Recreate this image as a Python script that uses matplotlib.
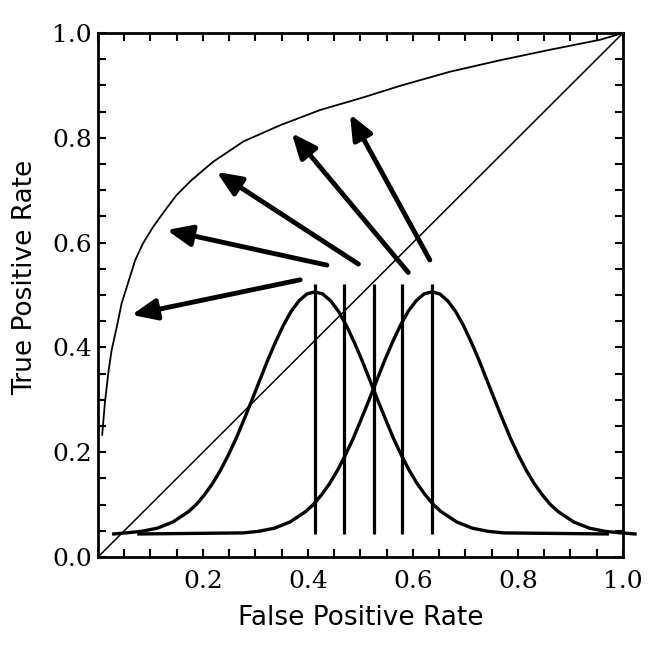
import matplotlib
matplotlib.use("Agg")
import matplotlib.pyplot as plt
from matplotlib.ticker import MultipleLocator

# ROC curve
roc_fpr = [0.008, 0.013, 0.020, 0.026, 0.036, 0.045, 0.051, 0.061, 0.071, 0.086,
           0.105, 0.128, 0.150, 0.178, 0.219, 0.277, 0.347, 0.423, 0.505, 0.575,
           0.670, 0.766, 0.861, 0.956, 1.0]
roc_tpr = [0.233, 0.293, 0.354, 0.395, 0.440, 0.484, 0.503, 0.535, 0.567, 0.599,
           0.630, 0.662, 0.691, 0.719, 0.754, 0.793, 0.824, 0.853, 0.877, 0.899,
           0.926, 0.948, 0.968, 0.987, 1.0]

# the two score distributions (drawn in data units)
neg_x = [0.030, 0.053, 0.083, 0.113, 0.143, 0.173,
         0.188, 0.203, 0.218, 0.233, 0.248, 0.263, 0.278, 0.293, 0.308, 0.323,
         0.338, 0.353, 0.368, 0.383, 0.398, 0.413, 0.428, 0.443, 0.458, 0.473,
         0.488, 0.503, 0.518, 0.533, 0.548, 0.563, 0.578, 0.593, 0.608, 0.623,
         0.638, 0.653, 0.683, 0.713, 0.743, 0.773, 0.970]
neg_y = [0.044, 0.046, 0.049, 0.055, 0.067, 0.087,
         0.101, 0.119, 0.140, 0.165, 0.194, 0.226, 0.262, 0.299, 0.337, 0.375,
         0.410, 0.442, 0.469, 0.489, 0.502, 0.506, 0.502, 0.489, 0.469, 0.442,
         0.410, 0.375, 0.337, 0.299, 0.262, 0.226, 0.194, 0.165, 0.140, 0.119,
         0.101, 0.087, 0.067, 0.055, 0.049, 0.046, 0.044]
pos_x = [0.078, 0.276, 0.306, 0.336, 0.366, 0.396,
         0.411, 0.426, 0.441, 0.456, 0.471, 0.486, 0.501, 0.516, 0.531, 0.546,
         0.561, 0.576, 0.591, 0.606, 0.621, 0.636, 0.651, 0.666, 0.681, 0.696,
         0.711, 0.726, 0.741, 0.756, 0.771, 0.786, 0.801, 0.816, 0.831, 0.846,
         0.861, 0.876, 0.906, 0.936, 0.966, 0.996, 1.023]
pos_y = [0.044, 0.046, 0.049, 0.055, 0.067, 0.087,
         0.101, 0.119, 0.140, 0.165, 0.194, 0.226, 0.262, 0.299, 0.337, 0.375,
         0.410, 0.442, 0.469, 0.489, 0.502, 0.506, 0.502, 0.489, 0.469, 0.442,
         0.410, 0.375, 0.337, 0.299, 0.262, 0.226, 0.194, 0.165, 0.140, 0.119,
         0.101, 0.087, 0.067, 0.055, 0.049, 0.046, 0.044]

# thresholds
thresholds = [0.413, 0.469, 0.525, 0.580, 0.636]
thr_bottom = 0.044
thr_top = 0.521

# arrows: tail -> tip
arrow_tails = [(0.385, 0.529), (0.436, 0.557), (0.496, 0.559), (0.591, 0.543), (0.632, 0.567)]
arrow_tips = [(0.064, 0.462), (0.131, 0.624), (0.226, 0.735), (0.369, 0.809), (0.480, 0.845)]

fig = plt.figure(figsize=(6.68, 6.56), dpi=100)
ax = fig.add_axes([0.1467, 0.1509, 0.7859, 0.7988])

ax.plot([0, 1], [0, 1], color="black", lw=1.1)
ax.plot(roc_fpr, roc_tpr, color="black", lw=1.3)
ax.plot(neg_x, neg_y, color="black", lw=2.4, clip_on=False)
ax.plot(pos_x, pos_y, color="black", lw=2.4, clip_on=False)
ax.vlines(thresholds, thr_bottom, thr_top, color="black", lw=2.3)

for tail, tip in zip(arrow_tails, arrow_tips):
    ax.annotate("", xy=tip, xytext=tail,
                arrowprops=dict(arrowstyle="-|>,head_length=0.75,head_width=0.32",
                                lw=3.5, color="black", mutation_scale=20,
                                shrinkA=0, shrinkB=0))

ax.set_xlim(0, 1)
ax.set_ylim(0, 1)
ax.set_xticks([0.2, 0.4, 0.6, 0.8, 1.0])
ax.set_yticks([0.0, 0.2, 0.4, 0.6, 0.8, 1.0])
ax.xaxis.set_minor_locator(MultipleLocator(0.05))
ax.yaxis.set_minor_locator(MultipleLocator(0.05))
ax.tick_params(which="both", direction="in", top=True, right=True,
               length=6, width=1.5, labelsize=18)
ax.tick_params(axis="x", pad=9)
ax.tick_params(axis="y", pad=4.5)
for lab in ax.get_xticklabels() + ax.get_yticklabels():
    lab.set_family("DejaVu Serif")
for s in ax.spines.values():
    s.set_linewidth(2)

ax.set_xlabel("False Positive Rate", fontsize=19)
ax.set_ylabel("True Positive Rate", fontsize=19)
ax.xaxis.set_label_coords(0.5, -0.092)
ax.yaxis.set_label_coords(-0.114, 0.534)

fig.savefig("out.png", dpi=100)
